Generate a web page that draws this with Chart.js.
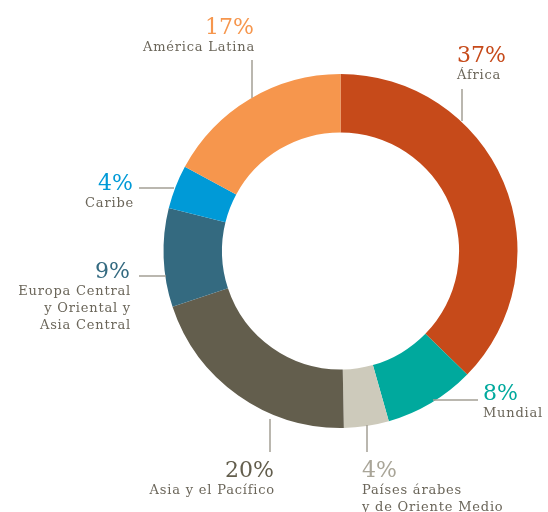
<!DOCTYPE html>
<html>
<head>
<meta charset="utf-8">
<script src="https://cdn.jsdelivr.net/npm/chart.js@4"></script>
<style>
  html, body { margin: 0; padding: 0; background: #fff; }
  #wrap { width: 548px; height: 512px; }
</style>
</head>
<body>
<div id="wrap"><canvas id="canvasRegiones" width="548" height="512"></canvas></div>
<script>
// datos
var regiones = ["África", "Mundial", "Países árabes y de Oriente Medio", "Asia y el Pacífico",
                "Europa Central y Oriental y Asia Central", "Caribe", "América Latina"];
var porcentajes = [37.3, 8.3, 4.1, 20.2, 9.0, 4.0, 17.1];
var colores = ["#C64A1A", "#00A99D", "#CDCABB", "#635E4D", "#346A80", "#009AD7", "#F6964D"];

// posicion de cada etiqueta (x, alineacion, linea base del numero, lineas del texto, guia)
var etiquetas = [
  { x: 457, align: "left",  y: 62,  lines: ["África"],                                  guide: [462, 89, 462, 121] },
  { x: 483, align: "left",  y: 400, lines: ["Mundial"],                                 guide: [433, 400, 478, 400] },
  { x: 362, align: "left",  y: 477, lines: ["Países árabes", "y de Oriente Medio"],     guide: [367, 425, 367, 452] },
  { x: 274, align: "right", y: 477, lines: ["Asia y el Pacífico"],                      guide: [270, 419, 270, 452] },
  { x: 130, align: "right", y: 278, lines: ["Europa Central", "y Oriental y", "Asia Central"], guide: [139, 276, 166, 276] },
  { x: 133, align: "right", y: 190, lines: ["Caribe"],                                  guide: [139, 188, 174, 188] },
  { x: 254, align: "right", y: 34,  lines: ["América Latina"],                          guide: [252, 60, 252, 98] }
];

var plugin_etiquetas = {
  id: 'etiquetas',
  afterDraw: function(chart){
    var ctx = chart.ctx;
    var ds = chart.data.datasets[0];
    ctx.save();
    etiquetas.forEach(function(e, i){
      var g = e.guide;
      ctx.strokeStyle = "#A39F95";
      ctx.lineWidth = 1.5;
      ctx.beginPath();
      ctx.moveTo(g[0], g[1]);
      ctx.lineTo(g[2], g[3]);
      ctx.stroke();

      ctx.textAlign = e.align;
      ctx.textBaseline = "alphabetic";
      ctx.letterSpacing = "0px";
      ctx.fillStyle = ds.backgroundColor[i];
      if (i == 2) { ctx.fillStyle = "#A9A598"; }
      ctx.font = "22px 'DejaVu Serif'";
      ctx.fillText(Math.round(ds.data[i]) + "%", e.x, e.y);

      ctx.fillStyle = "#6B665A";
      ctx.font = "13px 'DejaVu Serif'";
      ctx.letterSpacing = "0.8px";
      e.lines.forEach(function(t, j){
        var xx = e.align == "right" ? e.x + 1 : e.x;
        ctx.fillText(t, xx, e.y + 17 + j * 17);
      });
    });
    ctx.restore();
  }
};

new Chart(document.getElementById('canvasRegiones'), {
  type: 'doughnut',
  data: {
    labels: regiones,
    datasets: [{
      data: porcentajes,
      backgroundColor: colores,
      borderWidth: 0
    }]
  },
  options: {
    responsive: false,
    animation: false,
    cutout: '67%',
    layout: { padding: { left: 163, right: 30, top: 74, bottom: 84 } },
    plugins: { legend: { display: false }, tooltip: { enabled: false } }
  },
  plugins: [plugin_etiquetas]
});
</script>
</body>
</html>
